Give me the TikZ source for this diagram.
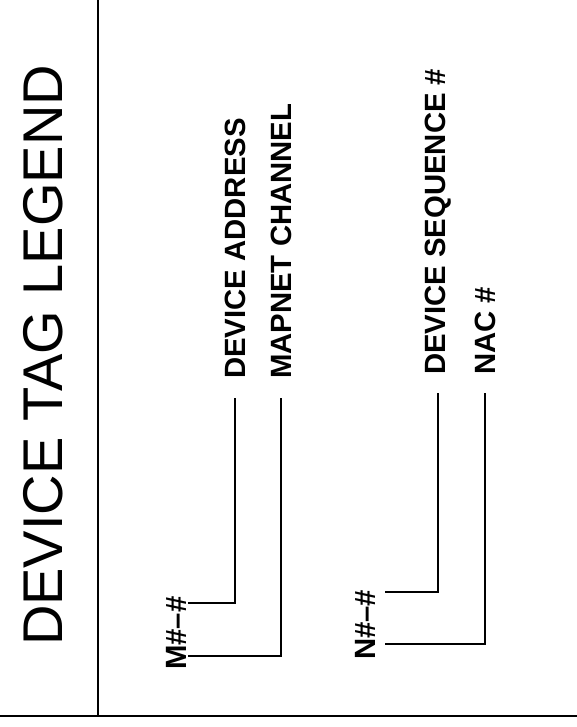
\documentclass[tikz,border=0pt]{standalone}
\usepackage{fontspec}
\setmainfont{Liberation Sans}
\usetikzlibrary{calc}
\tikzset{
  rule/.style={line width=2pt, line cap=rect},
  leader/.style={line width=2.2pt},
  title/.style={rotate=90, anchor=base west, inner sep=0pt, font=\fontsize{56}{60}\selectfont},
  tagtext/.style={rotate=90, anchor=base west, inner sep=0pt, font=\fontsize{29.3}{32}\selectfont\bfseries},
}
\begin{document}
\begin{tikzpicture}[x=1pt, y=-1pt]
\useasboundingbox (0,0) rectangle (577,727);
% frame lines
\coordinate (vt) at (98,0);
\coordinate (vb) at (98,716);
\coordinate (hl) at (0,716);
\coordinate (hr) at (577,716);
\draw[rule] (vt) -- (vb);
\draw[rule] (hl) -- (hr);
% title
\node[title] (ttl) at (62,646) {DEVICE TAG LEGEND};
% tags
\node[tagtext] (mtag) at (186,670) {M\#--\#};
\node[tagtext] (ntag) at (375,660) {N\#--\#};
% labels
\node[tagtext] (da) at (245,379) {DEVICE ADDRESS};
\node[tagtext] (mc) at (291,379) {MAPNET CHANNEL};
\node[tagtext] (ds) at (445,375) {DEVICE SEQUENCE \#};
\node[tagtext] (nac) at (495,375) {NAC \#};
% leader start points beside the tags
\coordinate (m1) at (188,603);
\coordinate (m2) at (188,656);
\coordinate (n1) at (385,592);
\coordinate (n2) at (385,644);
% leaders
\draw[leader] (m1) -| ($(da.west)+(0,19)$);
\draw[leader] (m2) -| ($(mc.west)+(0,19)$);
\draw[leader] (n1) -| ($(ds.west)+(0,18)$);
\draw[leader] (n2) -| ($(nac.west)+(0,18)$);
\end{tikzpicture}
\end{document}
